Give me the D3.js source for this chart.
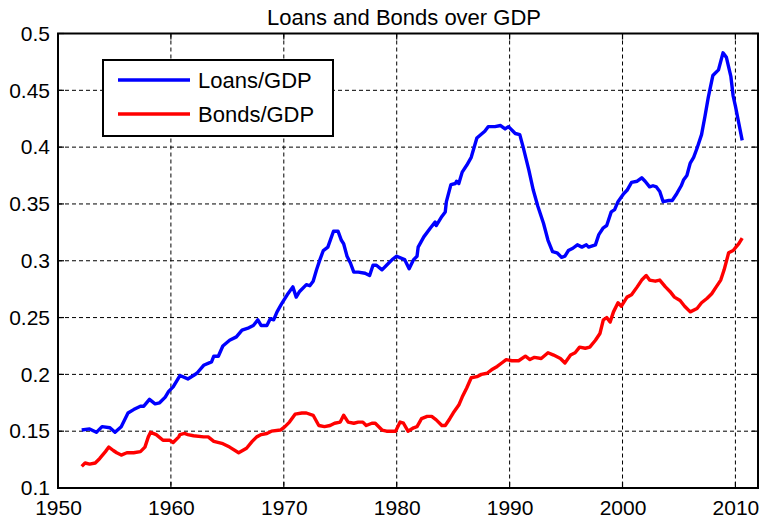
<!DOCTYPE html>
<html>
<head>
<meta charset="utf-8">
<script src="https://cdn.jsdelivr.net/npm/d3@7"></script>
<style>
  html, body { margin: 0; padding: 0; background: #fff; }
  svg { display: block; font-family: Arial, "Liberation Sans", Helvetica, sans-serif; }
</style>
</head>
<body>
<svg id="chart" width="764" height="518"></svg>
<script>
const title = "Loans and Bonds over GDP";
const seriesNames = ["Loans/GDP", "Bonds/GDP"];
const seriesColors = ["#0000ff", "#ff0000"];
const xTicks = [1950, 1960, 1970, 1980, 1990, 2000, 2010];
const yTicks = [0.1, 0.15, 0.2, 0.25, 0.3, 0.35, 0.4, 0.45, 0.5];

const loanYears = [1952.1,1952.8,1953.4,1953.9,1954.6,1955.05,1955.6,1956.2,1956.7,1957.3,1957.6,1958.1,1958.6,1959.0,1959.5,1959.8,1960.2,1960.8,1961.5,1962.0,1962.3,1962.9,1963.6,1963.8,1964.2,1964.6,1965.2,1965.8,1966.3,1966.9,1967.3,1967.7,1968.0,1968.5,1968.8,1969.1,1969.4,1969.8,1970.3,1970.8,1971.1,1971.4,1972.0,1972.3,1972.6,1972.9,1973.2,1973.5,1973.9,1974.4,1974.8,1975.1,1975.3,1975.6,1975.9,1976.2,1976.6,1977.2,1977.6,1977.9,1978.2,1978.7,1979.1,1979.6,1980.0,1980.7,1981.1,1981.5,1981.8,1981.9,1982.4,1983.0,1983.4,1983.5,1984.0,1984.3,1984.4,1984.8,1985.2,1985.3,1985.5,1985.8,1986.2,1986.6,1987.1,1987.8,1988.1,1988.7,1989.2,1989.6,1989.9,1990.5,1990.9,1991.2,1991.7,1992.1,1992.5,1993.0,1993.4,1993.8,1994.2,1994.6,1994.9,1995.2,1995.6,1996.0,1996.4,1996.8,1997.0,1997.6,1997.9,1998.3,1998.6,1999.0,1999.3,1999.6,2000.1,2000.4,2000.8,2001.3,2001.7,2002.0,2002.4,2002.7,2003.0,2003.3,2003.6,2004.1,2004.4,2004.8,2005.2,2005.4,2005.7,2006.0,2006.3,2006.6,2007.0,2007.3,2007.6,2008.0,2008.5,2008.9,2009.2,2009.6,2009.8,2010.0,2010.3,2010.6];
const loanValues = [0.151,0.152,0.149,0.154,0.153,0.149,0.154,0.166,0.169,0.172,0.172,0.178,0.174,0.175,0.180,0.185,0.189,0.199,0.196,0.199,0.201,0.208,0.211,0.216,0.216,0.225,0.230,0.233,0.239,0.241,0.243,0.248,0.243,0.243,0.249,0.248,0.255,0.262,0.270,0.277,0.268,0.273,0.279,0.278,0.282,0.292,0.301,0.309,0.312,0.326,0.326,0.318,0.315,0.304,0.298,0.290,0.290,0.289,0.287,0.296,0.296,0.292,0.296,0.301,0.304,0.301,0.293,0.301,0.304,0.312,0.321,0.329,0.334,0.331,0.339,0.343,0.352,0.367,0.368,0.370,0.368,0.378,0.384,0.391,0.408,0.414,0.418,0.418,0.419,0.416,0.418,0.412,0.411,0.400,0.380,0.362,0.348,0.333,0.318,0.308,0.307,0.303,0.304,0.309,0.311,0.314,0.312,0.314,0.312,0.314,0.323,0.329,0.331,0.343,0.345,0.352,0.359,0.362,0.369,0.370,0.373,0.370,0.365,0.366,0.365,0.361,0.352,0.353,0.353,0.359,0.366,0.371,0.375,0.386,0.391,0.399,0.411,0.427,0.444,0.463,0.468,0.483,0.479,0.462,0.445,0.436,0.421,0.406];

const bondYears = [1952.1,1952.4,1952.8,1953.3,1953.7,1954.2,1954.5,1954.9,1955.2,1955.6,1956.1,1956.7,1957.3,1957.7,1958.0,1958.2,1958.7,1959.3,1959.9,1960.2,1960.7,1960.8,1961.2,1961.5,1962.0,1962.9,1963.3,1963.8,1964.6,1965.2,1966.0,1966.7,1967.2,1967.6,1968.0,1968.5,1968.9,1969.7,1970.1,1970.5,1971.0,1971.6,1972.0,1972.6,1973.1,1973.6,1974.1,1974.5,1975.0,1975.3,1975.7,1976.2,1976.6,1977.0,1977.3,1977.8,1978.1,1978.7,1979.1,1979.6,1979.9,1980.3,1980.6,1981.0,1981.5,1981.8,1982.2,1982.7,1983.1,1983.5,1984.0,1984.3,1984.7,1985.0,1985.5,1985.8,1986.2,1986.6,1987.1,1987.5,1988.0,1988.4,1988.9,1989.3,1989.7,1990.2,1990.8,1991.4,1991.8,1992.2,1992.8,1993.4,1993.9,1994.5,1994.9,1995.4,1995.8,1996.2,1996.7,1997.1,1997.6,1998.0,1998.3,1998.6,1998.9,1999.2,1999.6,1999.9,2000.4,2000.8,2001.3,2001.7,2002.1,2002.4,2002.9,2003.3,2003.8,2004.2,2004.6,2005.1,2005.5,2006.0,2006.6,2007.0,2007.5,2007.9,2008.3,2008.7,2009.0,2009.4,2009.8,2010.3,2010.6];
const bondValues = [0.119,0.122,0.121,0.122,0.126,0.132,0.136,0.133,0.131,0.129,0.131,0.131,0.132,0.136,0.145,0.149,0.147,0.142,0.142,0.140,0.145,0.147,0.148,0.147,0.146,0.145,0.145,0.141,0.139,0.136,0.131,0.135,0.141,0.145,0.147,0.148,0.150,0.151,0.154,0.158,0.165,0.166,0.166,0.164,0.155,0.154,0.155,0.157,0.158,0.164,0.158,0.157,0.158,0.158,0.155,0.157,0.157,0.151,0.150,0.150,0.150,0.158,0.157,0.150,0.153,0.154,0.161,0.163,0.163,0.160,0.155,0.155,0.161,0.166,0.173,0.180,0.188,0.197,0.198,0.200,0.201,0.204,0.207,0.210,0.213,0.212,0.212,0.216,0.213,0.215,0.214,0.219,0.217,0.214,0.210,0.217,0.219,0.224,0.223,0.224,0.230,0.236,0.248,0.250,0.246,0.255,0.263,0.260,0.268,0.270,0.277,0.283,0.287,0.283,0.282,0.283,0.277,0.273,0.268,0.265,0.260,0.255,0.258,0.263,0.267,0.271,0.277,0.283,0.292,0.307,0.309,0.315,0.320];

const svg = d3.select("#chart");
const L = 58, R = 758, T = 33.5, B = 488;
const x = d3.scaleLinear().domain([1950, 2012]).range([L, R]);
const y = d3.scaleLinear().domain([0.1, 0.5]).range([B, T]);

// grid
const grid = svg.append("g");
grid.selectAll("line.vx").data(xTicks.filter(d => d > 1950)).enter().append("line")
  .attr("x1", d => x(d)).attr("x2", d => x(d)).attr("y1", T).attr("y2", B)
  .attr("stroke", "#000").attr("stroke-width", 1).attr("stroke-dasharray", "4,3");
grid.selectAll("line.hy").data(yTicks.filter(d => d > 0.1 && d < 0.5)).enter().append("line")
  .attr("y1", d => y(d)).attr("y2", d => y(d)).attr("x1", L).attr("x2", R)
  .attr("stroke", "#000").attr("stroke-width", 1).attr("stroke-dasharray", "4,3");

// inward ticks on all four sides
const tk = 6;
const ticks = svg.append("g").attr("stroke", "#000").attr("stroke-width", 1.2);
xTicks.forEach(d => {
  ticks.append("line").attr("x1", x(d)).attr("x2", x(d)).attr("y1", B).attr("y2", B - tk);
  ticks.append("line").attr("x1", x(d)).attr("x2", x(d)).attr("y1", T).attr("y2", T + tk);
});
yTicks.forEach(d => {
  ticks.append("line").attr("y1", y(d)).attr("y2", y(d)).attr("x1", L).attr("x2", L + tk);
  ticks.append("line").attr("y1", y(d)).attr("y2", y(d)).attr("x1", R).attr("x2", R - tk);
});

// axes (labels via d3 axis)
const xAxis = d3.axisBottom(x).tickValues(xTicks).tickFormat(d3.format("d")).tickSize(0).tickPadding(12);
const yAxis = d3.axisLeft(y).tickValues(yTicks).tickFormat(d => d3.format("")(+d.toFixed(2))).tickSize(0).tickPadding(8);
const gx = svg.append("g").attr("transform", `translate(0,${B})`).call(xAxis);
const gy = svg.append("g").attr("transform", `translate(${L},0)`).call(yAxis);
[gx, gy].forEach(g => {
  g.select(".domain").remove();
  g.selectAll("text").attr("font-size", 21).attr("fill", "#000").attr("font-family", "Arial, 'Liberation Sans', sans-serif");
});

// series
const line = d3.line().x(d => x(d[0])).y(d => y(d[1]));
const series = [
  d3.zip(loanYears, loanValues),
  d3.zip(bondYears, bondValues)
];
series.forEach((s, i) => {
  svg.append("path").datum(s).attr("d", line)
    .attr("fill", "none").attr("stroke", seriesColors[i]).attr("stroke-width", 3.4)
    .attr("stroke-linejoin", "round").attr("stroke-linecap", "butt");
});

// frame
svg.append("rect").attr("x", L).attr("y", T).attr("width", R - L).attr("height", B - T)
  .attr("fill", "none").attr("stroke", "#000").attr("stroke-width", 2);

// title
svg.append("text").attr("x", (L + R) / 2 - 4).attr("y", 25).attr("text-anchor", "middle")
  .attr("font-size", 22).attr("fill", "#000").text(title);

// legend
const lg = svg.append("g");
lg.append("rect").attr("x", 103).attr("y", 60).attr("width", 230).attr("height", 76)
  .attr("fill", "#fff").attr("stroke", "#000").attr("stroke-width", 2);
seriesNames.forEach((n, i) => {
  const yy = 80 + i * 34;
  lg.append("line").attr("x1", 118).attr("x2", 190).attr("y1", yy).attr("y2", yy)
    .attr("stroke", seriesColors[i]).attr("stroke-width", 3.4);
  lg.append("text").attr("x", 198).attr("y", yy + 8).attr("font-size", 22).attr("fill", "#000").text(n);
});
</script>
</body>
</html>
